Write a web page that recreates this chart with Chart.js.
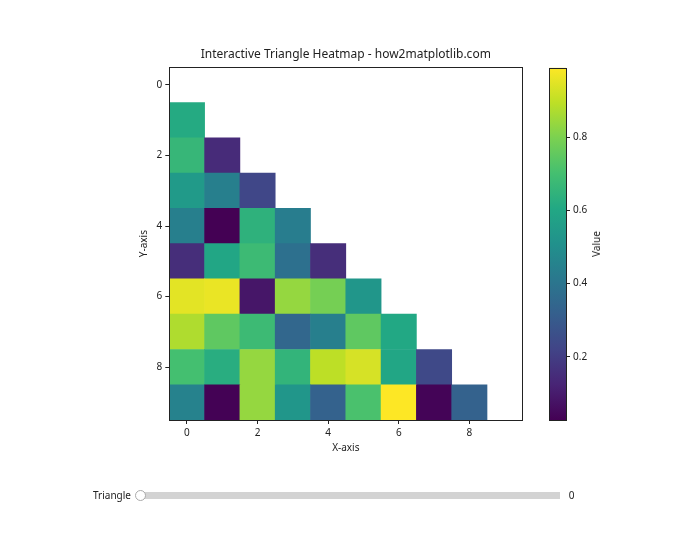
<!DOCTYPE html>
<html>
<head>
<meta charset="utf-8">
<script src="https://cdn.jsdelivr.net/npm/chart.js@4"></script>
<style>
  body { margin: 0; background: #fff; }
  #wrap { position: relative; width: 700px; height: 560px; font-family: "Noto Sans", sans-serif; color: #222; font-size: 10px; }
  #wrap canvas { position: absolute; left: 0; top: 0; }
  .txt { position: absolute; white-space: nowrap; line-height: 12px; }
  #cbLabel { left: 596px; top: 244px; transform: translate(-50%, -50%) rotate(-90deg); }
  #sLabel { right: 569px; top: 489px; }
  #sValue { left: 571.5px; top: 489px; transform: translateX(-50%); }
  #track { position: absolute; left: 141px; top: 491.5px; width: 419px; height: 7px; background: #d3d3d3; }
  #knob { position: absolute; left: 135px; top: 489.5px; width: 9px; height: 9px; border-radius: 50%; background: #fff; border: 1px solid #aaa; }
</style>
</head>
<body>
<div id="wrap">
  <canvas id="chart" width="700" height="560"></canvas>
  <canvas id="cbar" width="700" height="560"></canvas>
  <div class="txt" id="cbLabel">Value</div>
  <div class="txt" id="sLabel">Triangle</div>
  <div id="track"></div>
  <div id="knob"></div>
  <div class="txt" id="sValue">0</div>
</div>
<script>
// lower triangle, row i has columns 0..i-1 (row 0 is masked)
var values = [
  [],
  [0.614],
  [0.663, 0.143],
  [0.547, 0.441, 0.229],
  [0.441, 0.027, 0.643, 0.431],
  [0.152, 0.595, 0.682, 0.383, 0.152],
  [0.951, 0.961, 0.085, 0.836, 0.788, 0.528],
  [0.874, 0.749, 0.682, 0.345, 0.441, 0.749, 0.605],
  [0.701, 0.624, 0.836, 0.653, 0.894, 0.932, 0.595, 0.239],
  [0.451, 0.031, 0.836, 0.528, 0.326, 0.711, 0.990, 0.035, 0.326]
];
var xTicks = [0, 2, 4, 6, 8];
var yTicks = [0, 2, 4, 6, 8];
var cbarTicks = [0.2, 0.4, 0.6, 0.8];
var titleText = 'Interactive Triangle Heatmap - how2matplotlib.com';

var viridis = ['#440154', '#482475', '#414487', '#355f8d', '#2a788e', '#21918c',
               '#22a884', '#44bf70', '#7ad151', '#bddf26', '#fde725'];

var flat = [].concat.apply([], values);
var vmin = Math.min.apply(null, flat);
var vmax = Math.max.apply(null, flat);

function hex(c) {
  return [parseInt(c.substr(1, 2), 16), parseInt(c.substr(3, 2), 16), parseInt(c.substr(5, 2), 16)];
}
function colorFor(v) {
  var t = (v - vmin) / (vmax - vmin);
  t = Math.max(0, Math.min(1, t)) * (viridis.length - 1);
  var i = Math.min(Math.floor(t), viridis.length - 2), f = t - i;
  var a = hex(viridis[i]), b = hex(viridis[i + 1]);
  return 'rgb(' + [0, 1, 2].map(function (k) { return Math.round(a[k] + (b[k] - a[k]) * f); }).join(',') + ')';
}

var cells = [];
values.forEach(function (row, r) {
  row.forEach(function (v, c) {
    cells.push({ x: c, y: [r - 0.5, r + 0.5], v: v });
  });
});

var frame = {
  id: 'frame',
  afterDraw: function (chart) {
    var a = chart.chartArea, ctx = chart.ctx;
    ctx.save();
    ctx.strokeStyle = '#222';
    ctx.lineWidth = 1;
    ctx.strokeRect(Math.round(a.left) + 0.5, Math.round(a.top) + 0.5,
      Math.round(a.right - a.left), Math.round(a.bottom - a.top));
    ctx.restore();
  }
};

var tickFont = { family: '"Noto Sans", sans-serif', size: 10 };
function axisGrid() {
  return { offset: false, drawOnChartArea: false, drawTicks: true, tickLength: 4, tickColor: '#222', color: '#222' };
}

new Chart(document.getElementById('chart'), {
  type: 'bar',
  data: {
    datasets: [{
      data: cells,
      backgroundColor: function (ctx) { return ctx.raw ? colorFor(ctx.raw.v) : null; },
      borderWidth: 0,
      categoryPercentage: 1,
      barPercentage: 1
    }]
  },
  options: {
    responsive: false,
    animation: false,
    events: [],
    layout: { padding: { left: 119.3, right: 177.7, top: 46.9, bottom: 100 } },
    plugins: {
      legend: { display: false },
      tooltip: { enabled: false },
      title: {
        display: true,
        text: titleText,
        fullSize: false,
        color: '#222',
        font: { family: '"Noto Sans", sans-serif', size: 12, weight: 'normal' },
        padding: { top: 0, bottom: 6 }
      }
    },
    scales: {
      x: {
        type: 'linear',
        min: -0.5,
        max: 9.5,
        offset: false,
        grid: axisGrid(),
        border: { display: false },
        afterBuildTicks: function (s) { s.ticks = xTicks.map(function (v) { return { value: v }; }); },
        afterFit: function (s) { s.height = 40; },
        ticks: { color: '#222', font: tickFont, padding: 3, maxRotation: 0 },
        title: { display: true, text: 'X-axis', color: '#222', font: tickFont, padding: { top: 0, bottom: 6 } }
      },
      y: {
        type: 'linear',
        reverse: true,
        min: -0.5,
        max: 9.5,
        grid: axisGrid(),
        border: { display: false },
        afterBuildTicks: function (s) { s.ticks = yTicks.map(function (v) { return { value: v }; }); },
        afterFit: function (s) { s.width = 50; },
        ticks: { color: '#222', font: tickFont, padding: 3 },
        title: { display: true, text: 'Y-axis', color: '#222', font: tickFont, padding: { top: 19, bottom: 0 } }
      }
    }
  },
  plugins: [frame]
});

new Chart(document.getElementById('cbar'), {
  type: 'bar',
  data: {
    labels: ['Value'],
    datasets: [{
      data: [[vmin, vmax]],
      borderWidth: 0,
      categoryPercentage: 1,
      barPercentage: 1,
      backgroundColor: function (ctx) {
        var ch = ctx.chart;
        if (!ch.chartArea) return null;
        var ys = ch.scales.y;
        var g = ch.ctx.createLinearGradient(0, ys.getPixelForValue(vmin), 0, ys.getPixelForValue(vmax));
        viridis.forEach(function (c, i) { g.addColorStop(i / (viridis.length - 1), c); });
        return g;
      }
    }]
  },
  options: {
    responsive: false,
    animation: false,
    events: [],
    layout: { padding: { left: 549.3, right: 94, top: 67.7, bottom: 140 } },
    plugins: { legend: { display: false }, tooltip: { enabled: false } },
    scales: {
      x: { display: false },
      y: {
        position: 'right',
        min: vmin,
        max: vmax,
        grid: axisGrid(),
        border: { display: false },
        afterBuildTicks: function (s) { s.ticks = cbarTicks.map(function (v) { return { value: v }; }); },
        afterFit: function (s) { s.width = 40; },
        ticks: { color: '#222', font: tickFont, padding: 3 }
      }
    }
  },
  plugins: [frame]
});
</script>
</body>
</html>
